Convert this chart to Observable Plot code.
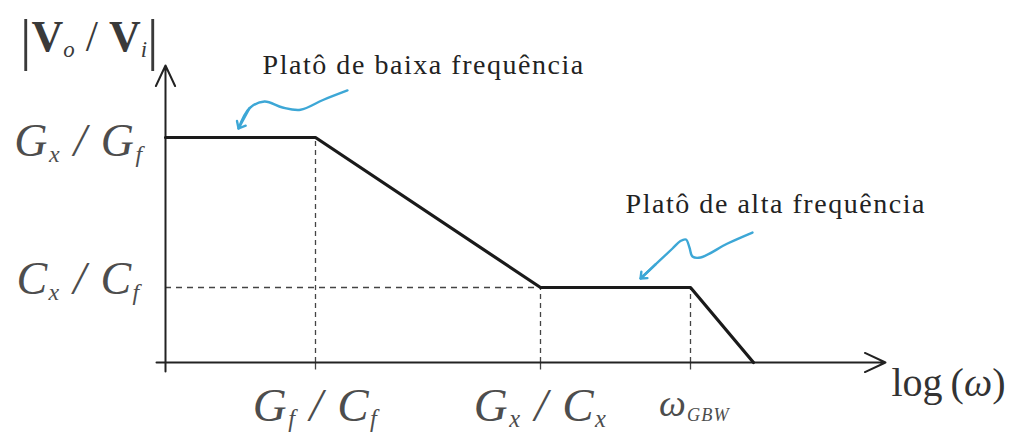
<!DOCTYPE html>
<html>
<head>
<meta charset="utf-8">
<script src="https://cdn.jsdelivr.net/npm/d3@7"></script>
<script src="https://cdn.jsdelivr.net/npm/@observablehq/plot@0.6"></script>
<style>
  html, body { margin: 0; padding: 0; background: #fff; }
</style>
</head>
<body>
<div id="chart"></div>
<script>
// Asymptotic magnitude response |Vo/Vi| versus log(ω)
// corners of the piecewise-linear response (log ω, magnitude)
const cornerLogW = [0, 1, 2.5, 3.5, 3.92];
const cornerMag = [30, 30, 10, 10, 0];

// plateau levels and their labels
const levelValues = [30, 10];
const levelLabels = ["G_x / G_f", "C_x / C_f"];

// corner frequencies and their labels
const freqValues = [1, 2.5, 3.5];
const freqLabels = ["G_f / C_f", "G_x / C_x", "ω_{GBW}"];

// axis extents
const axisLogW = [-0.06, 4.8];
const axisMag = [-1.2, 39.6];
const axisTitles = ["|#V#_o / #V#_i|", "log\u2009(*ω*)"];

// callouts: text anchors and the hand-drawn squiggles pointing at each plateau
const calloutTexts = ["Platô de baixa frequência", "Platô de alta frequência"];
const calloutX = [0.647, 3.067];
const calloutY = [38.53, 20];
const lowSquiggleX = [1.213, 1.05, 0.9, 0.78, 0.66, 0.56, 0.487];
const lowSquiggleY = [36.27, 35.0, 33.7, 34.0, 34.8, 33.9, 31.2];
const highSquiggleX = [3.913, 3.747, 3.567, 3.513, 3.493, 3.47, 3.433, 3.38, 3.267, 3.167];
const highSquiggleY = [17.33, 15.87, 14, 14.13, 15.33, 16.4, 16.2, 15.2, 13.07, 11.2];

const zip = (xs, ys) => xs.map((x, i) => ({x, y: ys[i]}));
const corners = zip(cornerLogW, cornerMag);
const lowSquiggle = zip(lowSquiggleX, lowSquiggleY);
const highSquiggle = zip(highSquiggleX, highSquiggleY);
const headOf = (pts) => [{x1: pts[pts.length - 2].x, y1: pts[pts.length - 2].y, x2: pts[pts.length - 1].x, y2: pts[pts.length - 1].y}];
const magAt = (w) => cornerMag[cornerLogW.indexOf(w)];

const serif = "Liberation Serif";
const blue = "#3da7d6";
const ink = "#1a1a1a";
const mathInk = "#4d4d4d";

const plot = Plot.plot({
  width: 1010,
  height: 437,
  marginLeft: 165,
  marginRight: 125,
  marginTop: 62,
  marginBottom: 75,
  x: {domain: [0, 4.8], axis: null},
  y: {domain: [0, 40], axis: null},
  style: {fontFamily: serif, background: "#fff", overflow: "visible"},
  marks: [
    // dashed guides from each corner down to the axis and across to the level axis
    Plot.ruleX(freqValues, {x: d => d, y1: 0, y2: d => magAt(d), stroke: "#444", strokeWidth: 1.3, strokeDasharray: "5,4"}),
    Plot.ruleY([levelValues[1]], {y: d => d, x1: 0, x2: freqValues[1], stroke: "#444", strokeWidth: 1.3, strokeDasharray: "6,5"}),
    Plot.ruleX(freqValues, {x: d => d, y1: -1, y2: 0, stroke: "#444", strokeWidth: 1.3}),

    // axes with open arrowheads
    Plot.arrow([{x1: axisLogW[0], y1: 0, x2: axisLogW[1], y2: 0}], {x1: "x1", y1: "y1", x2: "x2", y2: "y2", stroke: "#222", strokeWidth: 2, headLength: 17, headAngle: 50}),
    Plot.arrow([{x1: 0, y1: axisMag[0], x2: 0, y2: axisMag[1]}], {x1: "x1", y1: "y1", x2: "x2", y2: "y2", stroke: "#222", strokeWidth: 2, headLength: 17, headAngle: 50}),

    // the response itself
    Plot.line(corners, {x: "x", y: "y", stroke: ink, strokeWidth: 3.2, strokeLinejoin: "round"}),

    // callout squiggles
    Plot.line(lowSquiggle, {x: "x", y: "y", curve: "catmull-rom", stroke: blue, strokeWidth: 2.4}),
    Plot.arrow(headOf(lowSquiggle), {x1: "x1", y1: "y1", x2: "x2", y2: "y2", stroke: blue, strokeWidth: 2.4, headLength: 15, headAngle: 80}),
    Plot.line(highSquiggle, {x: "x", y: "y", curve: "catmull-rom", stroke: blue, strokeWidth: 2.4}),
    Plot.arrow(headOf(highSquiggle), {x1: "x1", y1: "y1", x2: "x2", y2: "y2", stroke: blue, strokeWidth: 2.4, headLength: 15, headAngle: 80}),

    // callout texts
    Plot.text(calloutTexts, {x: (d, i) => calloutX[i], y: (d, i) => calloutY[i], text: d => d, textAnchor: "start", lineAnchor: "bottom", fontFamily: serif, fontSize: 28, fill: "#222"}),

    // level labels on the vertical axis
    Plot.text([levelLabels[0]], {x: 0, y: levelValues[0], text: d => d, textAnchor: "end", lineAnchor: "bottom", dx: -22, dy: 18, fontFamily: serif, fontSize: 46, fontStyle: "italic", fill: mathInk}),
    Plot.text([levelLabels[1]], {x: 0, y: levelValues[1], text: d => d, textAnchor: "end", lineAnchor: "bottom", dx: -25, dy: 6, fontFamily: serif, fontSize: 46, fontStyle: "italic", fill: mathInk}),

    // corner frequency labels under the horizontal axis
    Plot.text(freqLabels.slice(0, 2), {x: (d, i) => freqValues[i], y: 0, text: d => d, textAnchor: "middle", lineAnchor: "bottom", dx: 0, dy: 58, fontFamily: serif, fontSize: 47, fontStyle: "italic", fill: mathInk}),
    Plot.text([freqLabels[2]], {x: freqValues[2], y: 0, text: d => d, textAnchor: "middle", lineAnchor: "bottom", dx: 4, dy: 53, fontFamily: serif, fontSize: 38, fontStyle: "italic", fill: mathInk}),

    // axis titles
    Plot.text([axisTitles[0]], {x: 0, y: axisMag[1], text: d => d, textAnchor: "end", lineAnchor: "bottom", dx: -7, dy: -15, fontFamily: serif, fontSize: 44, fill: "#3a3a3a"}),
    Plot.text([axisTitles[1]], {x: axisLogW[1], y: 0, text: d => d, textAnchor: "start", lineAnchor: "bottom", dx: 6, dy: 33, fontFamily: serif, fontSize: 40, fill: "#333"})
  ]
});

// Typeset the small math markup used in the labels:
//   _x or _{abc} subscript, *...* toggles italic, #...# toggles bold, | drawn as a tall bar
const svgNS = "http://www.w3.org/2000/svg";
function typeset(node) {
  const src = node.textContent;
  const g = node.closest("g");
  const size = parseFloat(g.getAttribute("font-size")) || 20;
  if (!/[_*#|]/.test(src)) {
    // running text is set a little loose
    node.setAttribute("letter-spacing", size * 0.055);
    return;
  }
  let italic = g.getAttribute("font-style") === "italic";
  let bold = false;
  let offset = 0;
  const moveTo = (t, target) => {
    if (target !== offset) t.setAttribute("dy", target - offset);
    offset = target;
  };
  node.textContent = "";
  for (const p of src.match(/_\{[^}]*\}|_[^{]|[*#|]|[^_*#|]+/g) || []) {
    if (p === "*") { italic = !italic; continue; }
    if (p === "#") { bold = !bold; continue; }
    const t = document.createElementNS(svgNS, "tspan");
    if (p[0] === "_") {
      const sub = p[1] === "{" ? p.slice(2, -1) : p.slice(1);
      t.textContent = sub;
      t.setAttribute("font-size", size * (sub.length > 1 ? 0.48 : 0.52));
      t.setAttribute("font-style", "italic");
      t.setAttribute("font-weight", "normal");
      moveTo(t, size * 0.14);
    } else if (p === "|") {
      t.textContent = "|";
      t.setAttribute("font-size", size * 1.3);
      t.setAttribute("font-style", "normal");
      t.setAttribute("font-weight", "normal");
      moveTo(t, size * 0.2);
    } else {
      t.textContent = p;
      t.setAttribute("font-style", italic ? "italic" : "normal");
      t.setAttribute("font-weight", bold ? "bold" : "normal");
      moveTo(t, 0);
    }
    node.appendChild(t);
  }
  // the level and frequency labels are spaced a touch wider
  if (italic || g.getAttribute("font-style") === "italic") node.setAttribute("letter-spacing", size * 0.03);
}
plot.querySelectorAll("text").forEach(typeset);

document.getElementById("chart").appendChild(plot);
</script>
</body>
</html>
